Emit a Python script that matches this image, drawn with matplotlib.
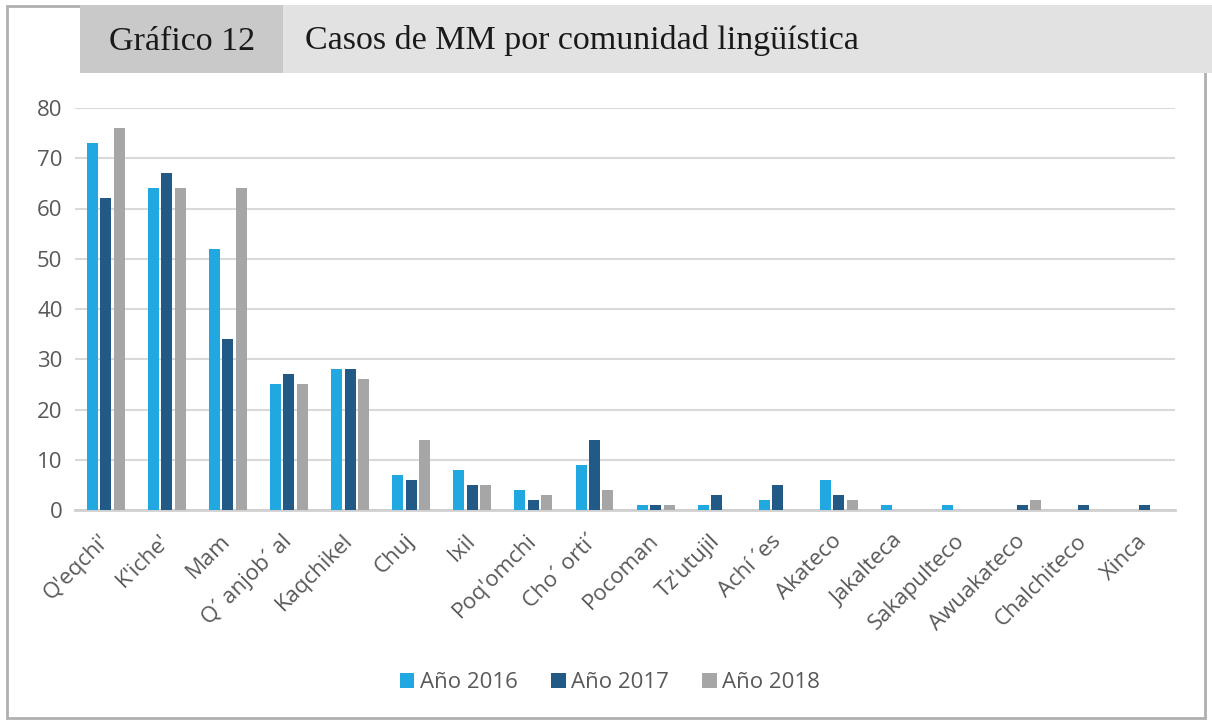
import matplotlib.pyplot as plt
import numpy as np
from matplotlib.patches import Rectangle

# Datos: casos de MM por comunidad lingüística
comunidades = ["Q'eqchi'", "K'iche'", "Mam", "Q´ anjob´ al", "Kaqchikel", "Chuj",
               "Ixil", "Poq'omchi", "Cho´ orti´", "Pocoman", "Tz'utujil", "Achí ´es",
               "Akateco", "Jakalteca", "Sakapulteco", "Awuakateco", "Chalchiteco", "Xinca"]
anio_2016 = [73, 64, 52, 25, 28, 7, 8, 4, 9, 1, 1, 2, 6, 1, 1, 0, 0, 0]
anio_2017 = [62, 67, 34, 27, 28, 6, 5, 2, 14, 1, 3, 5, 3, 0, 0, 1, 1, 1]
anio_2018 = [76, 64, 64, 25, 26, 14, 5, 3, 4, 1, 0, 0, 2, 0, 0, 2, 0, 0]
series = ["Año 2016", "Año 2017", "Año 2018"]
colores = ["#22a8e0", "#215a87", "#a6a6a6"]
yticks = [0, 10, 20, 30, 40, 50, 60, 70, 80]

fig = plt.figure(figsize=(12.12, 7.26), dpi=100)
fig.patch.set_facecolor("white")

# marco exterior
fig.add_artist(Rectangle((7 / 1212, 1 - 718 / 726), (1205 - 7) / 1212, (718 - 6) / 726,
                         transform=fig.transFigure, fill=False, edgecolor="#b0b0b0", lw=2))
# franja de título
fig.add_artist(Rectangle((80 / 1212, 1 - 73 / 726), 1132 / 1212, 68 / 726,
                         transform=fig.transFigure, facecolor="#e2e2e2", edgecolor="none"))
fig.add_artist(Rectangle((80 / 1212, 1 - 73 / 726), 203 / 1212, 68 / 726,
                         transform=fig.transFigure, facecolor="#c9c9c9", edgecolor="none"))
fig.text(182 / 1212, 1 - 42 / 726, "Gráfico 12", ha="center", va="center",
         family="Liberation Serif", fontsize=24.5, color="#1a1a1a")
fig.text(305 / 1212, 1 - 40 / 726, "Casos de MM por comunidad lingüística", ha="left", va="center",
         family="Liberation Serif", fontsize=24.5, color="#1a1a1a")

ax = fig.add_axes([75 / 1212, 1 - 510 / 726, 1100 / 1212, 402 / 726])
x = np.arange(len(comunidades))
ancho = 0.18
paso = 0.22
for i, (vals, nombre, c) in enumerate(zip([anio_2016, anio_2017, anio_2018], series, colores)):
    ax.bar(x + (i - 1) * paso, vals, width=ancho, color=c, label=nombre, zorder=3)

ax.set_xlim(-0.5, len(comunidades) - 0.5)
ax.set_ylim(0, 80)
ax.set_yticks(yticks)
ax.yaxis.grid(True, color="#d9d9d9", lw=1.5, zorder=0)
for s in ["top", "right", "left"]:
    ax.spines[s].set_visible(False)
ax.spines["bottom"].set_color("#d0d0d0")
ax.spines["bottom"].set_linewidth(2)
ax.tick_params(axis="both", length=0, labelcolor="#595959")
ax.tick_params(axis="y", pad=9, labelsize=16)
ax.tick_params(axis="x", pad=20)
ax.set_xticks(x)
ax.set_xticklabels(comunidades, rotation=45, ha="right", va="center", rotation_mode="anchor",
                   family="Open Sans", fontsize=16)
for lbl in ax.get_yticklabels():
    lbl.set_family("Open Sans")

leg = fig.legend(loc="center", bbox_to_anchor=(610 / 1212, 1 - 683 / 726), ncol=3, frameon=False,
                 prop={"family": "Open Sans", "size": 16}, handlelength=0.65, handleheight=0.65,
                 handletextpad=0.25, columnspacing=1.5)
for t in leg.get_texts():
    t.set_color("#595959")

fig.savefig("out.png", dpi=100)
